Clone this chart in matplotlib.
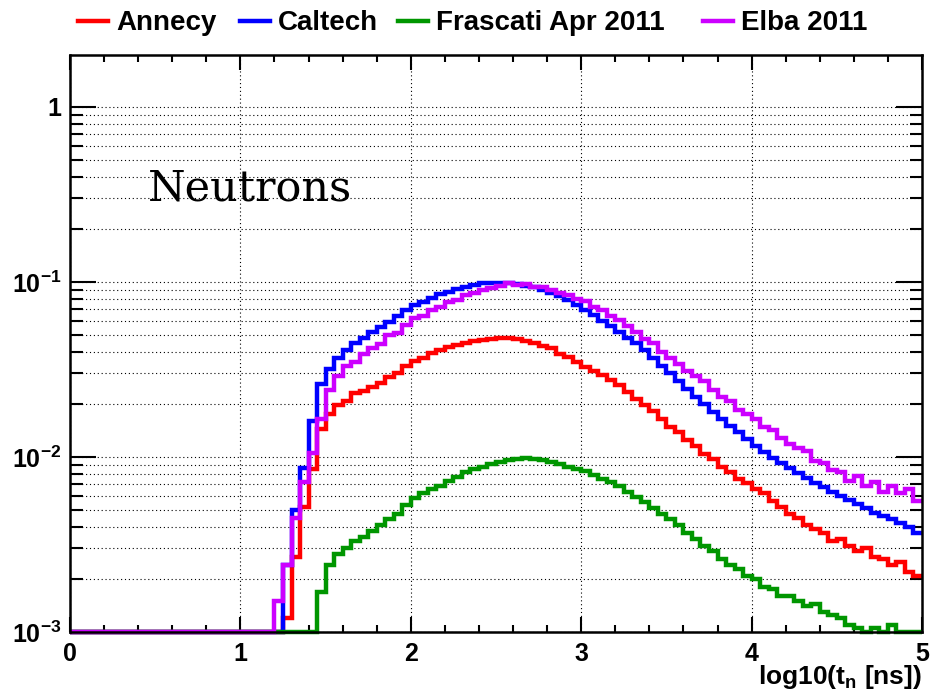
import numpy as np
import matplotlib
matplotlib.use("Agg")
import matplotlib.pyplot as plt
from matplotlib.ticker import FixedLocator, LogLocator, FuncFormatter, NullFormatter

# bin edges: one empty bin 0-1.2, then 0.05 wide bins up to 5
bin_lo, bin_hi, bin_w = 1.2, 5.0, 0.05

labels = ["Annecy", "Caltech", "Frascati Apr 2011", "Elba 2011"]
colors = ["#ff0000", "#0000ff", "#009600", "#cc00ff"]

annecy = [0.0, 0.0012, 0.0027, 0.0052, 0.0085, 0.0145, 0.0175, 0.0198, 0.021, 0.0232,
          0.0238, 0.025, 0.0265, 0.0285, 0.030, 0.033, 0.0355, 0.037, 0.0395, 0.041,
          0.0425, 0.0435, 0.045, 0.0462, 0.0468, 0.0475, 0.0478, 0.0478, 0.0472, 0.046,
          0.0448, 0.043, 0.042, 0.039, 0.0375, 0.035, 0.0328, 0.031, 0.0295, 0.0275,
          0.0258, 0.0235, 0.0215, 0.0198, 0.0182, 0.0165, 0.0148, 0.0138, 0.0125, 0.0115,
          0.0104, 0.0098, 0.0088, 0.0082, 0.0075, 0.0071, 0.0066, 0.0062, 0.0056, 0.0052,
          0.0047, 0.0045, 0.0041, 0.0039, 0.0037, 0.0033, 0.0034, 0.0031, 0.0029, 0.0030,
          0.0027, 0.0026, 0.0024, 0.0025, 0.0022, 0.0021]

caltech = [0.0, 0.0024, 0.005, 0.0086, 0.016, 0.026, 0.032, 0.037, 0.041, 0.045,
           0.048, 0.052, 0.055, 0.059, 0.064, 0.069, 0.074, 0.077, 0.081, 0.085,
           0.088, 0.091, 0.094, 0.096, 0.098, 0.099, 0.099, 0.098, 0.097, 0.095,
           0.093, 0.090, 0.087, 0.083, 0.079, 0.074, 0.069, 0.065, 0.060, 0.056,
           0.052, 0.048, 0.045, 0.041, 0.037, 0.033, 0.030, 0.027, 0.0245, 0.022,
           0.020, 0.018, 0.0165, 0.015, 0.0138, 0.0126, 0.0116, 0.0107, 0.0099, 0.0092,
           0.0086, 0.0081, 0.0076, 0.0071, 0.0067, 0.0063, 0.0060, 0.0057, 0.0054, 0.0051,
           0.0048, 0.0046, 0.0044, 0.0042, 0.0040, 0.0037]

frascati = [0.0, 0.0, 0.0, 0.0, 0.0, 0.0017, 0.0024, 0.0028, 0.0030, 0.0033,
            0.0035, 0.0038, 0.0041, 0.0044, 0.0047, 0.0053, 0.0058, 0.0062, 0.0066, 0.0068,
            0.0073, 0.0077, 0.0082, 0.0085, 0.0088, 0.0091, 0.0093, 0.0096, 0.0097, 0.0099,
            0.0097, 0.0096, 0.0094, 0.0091, 0.0088, 0.0085, 0.0083, 0.0079, 0.0075, 0.0072,
            0.0068, 0.0063, 0.0059, 0.0055, 0.0051, 0.0047, 0.0044, 0.0041, 0.0037, 0.0034,
            0.0031, 0.0029, 0.0026, 0.0024, 0.0023, 0.0021, 0.0020, 0.0018, 0.00175, 0.0016,
            0.0016, 0.0015, 0.0014, 0.00145, 0.0013, 0.00125, 0.0012, 0.0011, 0.00105, 0.00095,
            0.00105, 0.0009, 0.0011, 0.0009, 0.00095, 0.0009]

elba = [0.0015, 0.0024, 0.0045, 0.0072, 0.0105, 0.0165, 0.024, 0.029, 0.033, 0.035,
        0.039, 0.042, 0.044, 0.050, 0.051, 0.057, 0.062, 0.064, 0.069, 0.072,
        0.077, 0.079, 0.084, 0.087, 0.090, 0.092, 0.095, 0.099, 0.096, 0.097,
        0.094, 0.093, 0.090, 0.087, 0.084, 0.080, 0.078, 0.072, 0.069, 0.064,
        0.061, 0.056, 0.052, 0.047, 0.045, 0.040, 0.037, 0.034, 0.031, 0.029,
        0.027, 0.024, 0.022, 0.021, 0.0185, 0.0175, 0.0165, 0.0148, 0.0142, 0.0128,
        0.0118, 0.0112, 0.0108, 0.0095, 0.0092, 0.0084, 0.0082, 0.0073, 0.0078, 0.0068,
        0.0072, 0.0063, 0.0068, 0.0062, 0.0066, 0.0056]

ymin, ymax = 1e-3, 1.98
edges = np.r_[0.0, np.arange(bin_lo, bin_hi + bin_w / 2, bin_w)]

plt.rcParams['font.family'] = ['Liberation Sans', 'DejaVu Sans']
plt.rcParams['font.weight'] = 'bold'
plt.rcParams['mathtext.fontset'] = 'custom'
plt.rcParams['mathtext.rm'] = 'Liberation Sans:bold'
plt.rcParams['mathtext.it'] = 'Liberation Sans:bold'
plt.rcParams['mathtext.bf'] = 'Liberation Sans:bold'

W, H = 946, 696
fig = plt.figure(figsize=(W / 100, H / 100), dpi=100)
ax = fig.add_axes([70/W, 64/H, 852/W, 577/H])

for vals, c in zip([annecy, caltech, frascati, elba], colors):
    v = np.clip(np.r_[0.0, vals], ymin, None)
    ax.stairs(v, edges, color=c, lw=3.2, baseline=None, clip_on=False)

ax.set_yscale('log')
ax.set_xlim(0, 5)
ax.set_ylim(ymin, ymax)

ax.xaxis.set_major_locator(FixedLocator([0, 1, 2, 3, 4, 5]))
ax.xaxis.set_minor_locator(FixedLocator(np.arange(0, 5.01, 0.2)))
ax.yaxis.set_major_locator(LogLocator(base=10, numticks=10))
ax.yaxis.set_minor_locator(LogLocator(base=10, subs=np.arange(2, 10), numticks=20))
ax.yaxis.set_minor_formatter(NullFormatter())

def ylab(v, pos):
    e = int(round(np.log10(v)))
    return "1" if e == 0 else r"$10^{%d}$" % e
ax.yaxis.set_major_formatter(FuncFormatter(ylab))
ax.xaxis.set_major_formatter(FuncFormatter(lambda v, p: "%d" % v))

ax.tick_params(axis='both', which='both', direction='in', width=1.5, labelsize=18,
               top=True, right=True)
ax.tick_params(axis='x', which='major', length=11, pad=7)
ax.tick_params(axis='x', which='minor', length=5)
ax.tick_params(axis='y', which='major', length=19, pad=6)
ax.tick_params(axis='y', which='minor', length=9)
for s in ax.spines.values():
    s.set_linewidth(1.8)

ax.grid(True, axis='x', which='major', color='black', ls=(0, (1, 2.5)), lw=0.8)
ax.grid(True, axis='y', which='both', color='black', ls=(0, (1, 2.5)), lw=0.8)
ax.set_axisbelow(True)

ax.text(0.0915, 0.748, "Neutrons", transform=ax.transAxes, fontsize=31,
        family='DejaVu Serif', fontweight='normal', ha='left', va='baseline')

fig.text(922/W, 1 - 684/H, r"log10(t$_{n}$ [ns])", ha='right', va='baseline', fontsize=19)

# legend row above the frame
leg_y = 1 - 21/H
handle_x = [78, 240, 398, 703]
for x0, c, lab in zip(handle_x, colors, labels):
    fig.add_artist(plt.Line2D([x0/W, (x0 + 30)/W], [leg_y, leg_y], color=c, lw=3.2,
                              transform=fig.transFigure))
    fig.text((x0 + 38)/W, leg_y - 2/H, lab, ha='left', va='center', fontsize=20)

fig.savefig("out.png", dpi=100)
